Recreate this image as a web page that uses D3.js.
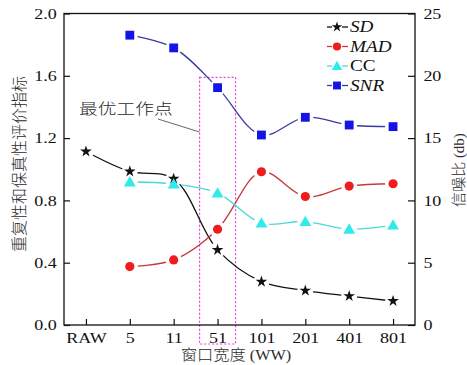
<!DOCTYPE html>
<html>
<head>
<meta charset="utf-8">
<script src="https://cdn.jsdelivr.net/npm/d3@7"></script>
<style>
  html, body { margin: 0; padding: 0; background: #fff; }
  svg { display: block; }
  text { font-family: "Liberation Serif", "Times New Roman", "Noto Sans CJK SC", serif; fill: #111; }
  text.cjk { font-family: "Liberation Serif", "Noto Sans CJK SC", serif; font-weight: 300; fill: #2a2a2a; }
</style>
</head>
<body>
<svg id="chart" width="467" height="365"></svg>
<script>
// Window widths along the x axis
const categories = ["RAW", "5", "11", "51", "101", "201", "401", "801"];

// Repeatability / fidelity indices (left axis)
const sdValues  = [1.114, 0.986, 0.939, 0.482, 0.278, 0.221, 0.186, 0.154];
const madValues = [null, 0.375, 0.418, 0.615, 0.984, 0.825, 0.892, 0.907];
const ccValues  = [null, 0.918, 0.905, 0.847, 0.654, 0.664, 0.615, 0.641];
// Signal-to-noise ratio in dB (right axis)
const snrValues = [null, 23.26, 22.24, 19.05, 15.25, 16.67, 16.05, 15.92];

const leftTicks  = [0, 0.4, 0.8, 1.2, 1.6, 2.0];
const rightTicks = [0, 5, 10, 15, 20, 25];
const legendLabels = ["SD", "MAD", "CC", "SNR"];
const highlightCategory = "51";
const annotationText = "最优工作点";

const svg = d3.select("#chart");
const plotL = 64, plotR = 415, plotT = 13.5, plotB = 325;
const SX = 1.2; // horizontal stretch of lettering

const x  = d3.scalePoint().domain(categories).range([plotL, plotR]).padding(0.5);
const yL = d3.scaleLinear().domain([0, 2]).range([plotB, plotT]);
const yR = d3.scaleLinear().domain([0, 25]).range([plotB, plotT]);

const series = [
  { name: "SD",  values: sdValues,  y: yL, line: "#111",    fill: "#111",    shape: d3.symbolStar,     size: 42 },
  { name: "MAD", values: madValues, y: yL, line: "#c8383a", fill: "#ee1c1c", shape: d3.symbolCircle,   size: 66 },
  { name: "CC",  values: ccValues,  y: yL, line: "#48d8d8", fill: "#33eaea", shape: d3.symbolTriangle, size: 62 },
  { name: "SNR", values: snrValues, y: yR, line: "#3a3aa0", fill: "#1414e6", shape: d3.symbolSquare,   size: 78 }
];

// Highlight box around the chosen window width
const hx = x(highlightCategory);
svg.append("rect")
  .attr("x", hx - 18).attr("width", 36)
  .attr("y", yL(1.59)).attr("height", yL(-0.122) - yL(1.59))
  .attr("fill", "none").attr("stroke", "#e040e0").attr("stroke-width", 1.2)
  .attr("stroke-dasharray", "2,2");

// Lines, masked around each marker so they stop short of it
const defs = svg.append("defs");
const gapR = 8;
series.forEach((s, si) => {
  const pts = categories.map((c, i) => ({ c, v: s.values[i] })).filter(d => d.v != null);
  const mask = defs.append("mask").attr("id", "gap" + si).attr("maskUnits", "userSpaceOnUse")
    .attr("x", 0).attr("y", 0).attr("width", 467).attr("height", 365);
  mask.append("rect").attr("width", 467).attr("height", 365).attr("fill", "#fff");
  mask.selectAll("circle").data(pts).join("circle")
    .attr("cx", d => x(d.c)).attr("cy", d => s.y(d.v)).attr("r", gapR).attr("fill", "#000");
  const line = d3.line().x(d => x(d.c)).y(d => s.y(d.v)).curve(d3.curveCatmullRom.alpha(0.5));
  svg.append("path").datum(pts)
    .attr("d", line).attr("fill", "none")
    .attr("stroke", s.line).attr("stroke-width", 1.3)
    .attr("mask", "url(#gap" + si + ")");
  s.pts = pts;
});

// Markers
series.forEach(s => {
  svg.append("g").selectAll("path").data(s.pts).join("path")
    .attr("transform", d => `translate(${x(d.c)},${s.y(d.v) + (s.shape === d3.symbolTriangle ? 1 : 0)})`)
    .attr("d", d3.symbol(s.shape, s.size))
    .attr("fill", s.fill);
});

// Frame
svg.append("rect").attr("x", plotL).attr("y", plotT)
  .attr("width", plotR - plotL).attr("height", plotB - plotT)
  .attr("fill", "none").attr("stroke", "#111").attr("stroke-width", 1.3);

function styleTicks(g) {
  g.select(".domain").remove();
  g.selectAll(".tick line").attr("stroke", "#111").attr("stroke-width", 1.2);
  g.selectAll(".tick text").attr("font-size", 15).attr("fill", "#111")
    .attr("font-family", "Liberation Serif, Times New Roman, serif");
}

// Left axis
svg.append("g").attr("transform", `translate(${plotL},0)`)
  .call(d3.axisLeft(yL).tickValues(leftTicks).tickFormat(d3.format(".1f"))
    .tickSizeInner(-6).tickSizeOuter(0).tickPadding(6))
  .call(styleTicks)
  .call(g => g.selectAll(".tick text").attr("transform", `scale(${SX},1)`));

// Right axis
svg.append("g").attr("transform", `translate(${plotR},0)`)
  .call(d3.axisRight(yR).tickValues(rightTicks).tickFormat(d3.format("d"))
    .tickSizeInner(-7).tickSizeOuter(0).tickPadding(7))
  .call(styleTicks)
  .call(g => g.selectAll(".tick text").attr("transform", `scale(${SX},1)`));

// Bottom axis
svg.append("g").attr("transform", `translate(0,${plotB})`)
  .call(d3.axisBottom(x).tickSizeInner(-6).tickSizeOuter(0).tickPadding(7))
  .call(styleTicks)
  .call(g => g.selectAll(".tick text").attr("transform", `scale(${SX},1)`));

// Axis titles
svg.append("text").attr("class", "cjk")
  .attr("transform", "translate(236,360) scale(1.08,1)")
  .attr("text-anchor", "middle").attr("font-size", 15)
  .text("窗口宽度 (WW)");

svg.append("text").attr("class", "cjk")
  .attr("transform", "translate(25,164) rotate(-90)")
  .attr("text-anchor", "middle").attr("font-size", 16)
  .text("重复性和保真性评价指标");

svg.append("text").attr("class", "cjk")
  .attr("transform", "translate(464,170) rotate(-90)")
  .attr("text-anchor", "middle").attr("font-size", 15)
  .text("信噪比 (db)");

// Annotation for the optimal operating point
svg.append("text").attr("class", "cjk")
  .attr("transform", "translate(79,114) scale(1.25,1)")
  .attr("font-size", 15)
  .text(annotationText);
svg.append("line")
  .attr("x1", 158).attr("y1", 119).attr("x2", hx - 18).attr("y2", 132)
  .attr("stroke", "#555").attr("stroke-width", 0.9);

// Legend
const legend = svg.append("g");
series.forEach((s, i) => {
  const ly = 27 + i * 19.5;
  const g = legend.append("g").attr("transform", `translate(0,${ly})`);
  g.append("line").attr("x1", 327).attr("x2", 332).attr("stroke", s.line).attr("stroke-width", 1.3);
  g.append("line").attr("x1", 342).attr("x2", 348).attr("stroke", s.line).attr("stroke-width", 1.3);
  g.append("path").attr("transform", `translate(337,${s.shape === d3.symbolTriangle ? 1 : 0})`)
    .attr("d", d3.symbol(s.shape, s.size * 0.8)).attr("fill", s.fill);
  g.append("text").attr("transform", `translate(350,5) scale(${SX},1)`)
    .attr("font-size", 16)
    .attr("font-style", legendLabels[i] === "CC" ? "normal" : "italic")
    .text(legendLabels[i]);
});
</script>
</body>
</html>
